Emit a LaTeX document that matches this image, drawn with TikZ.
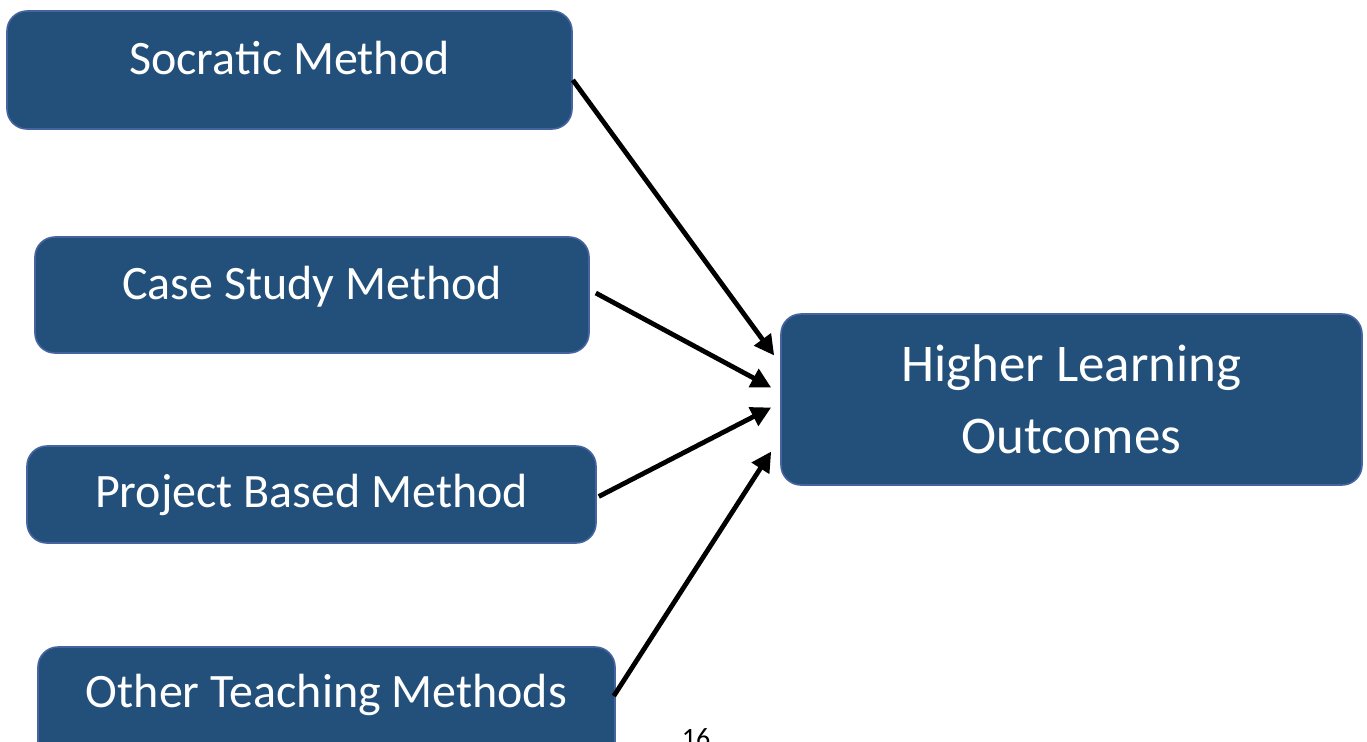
\documentclass[tikz,border=0pt]{standalone}
\usepackage{fontspec}
\setmainfont{Carlito}
\usepackage{tikz}
\usetikzlibrary{arrows.meta}
\usetikzlibrary{positioning}

\definecolor{boxblue}{RGB}{34,80,122}
\definecolor{boxedge}{RGB}{70,100,160}

\tikzset{
  method/.style={draw=boxedge, line width=0.8pt, fill=boxblue, rounded corners=10pt,
    text=white, font=\fontsize{24}{29}\selectfont, inner sep=0pt},
  outcome/.style={method, align=center, font=\fontsize{26.5}{36}\selectfont},
  link/.style={-{Triangle[length=10pt,width=10pt]}, line width=2.4pt, black}
}

\begin{document}
\begin{tikzpicture}[x=0.5pt, y=-0.5pt]
  \useasboundingbox (0,0) rectangle (1367,741);
  \clip (0,0) rectangle (1367,741);

  \node[method, minimum width=282.5pt, minimum height=59pt, text height=12pt, text depth=8pt]
    (socratic) at (289.5,70)  {Socratic Method};
  \node[method, minimum width=277pt, minimum height=58pt, text height=12pt, text depth=8pt]
    (casestudy) at (312,295)  {Case Study Method};
  \node[method, minimum width=284.5pt, minimum height=48.5pt, text height=16pt, text depth=3.5pt]
    (project) at (311.5,494.5) {Project Based Method};
  \node[method, minimum width=288.5pt, minimum height=60pt, text height=8pt, text depth=8pt]
    (other) at (326.5,707)   {Other Teaching Methods};
  \node[outcome, minimum width=290.5pt, minimum height=85.5pt, text depth=-10pt]
    (higher) at (1071.5,399.5) {Higher Learning\\Outcomes};
  \node[font=\fontsize{14}{17}\selectfont, anchor=base] (page) at (696,747) {16};

  % arrows into the outcome box
  \draw[link] ([yshift=-5pt]socratic.east) -- ([xshift=-3pt,yshift=22pt]higher.west);
  \draw[link] ([xshift=3pt,yshift=1pt]casestudy.east) -- ([xshift=-4.5pt,yshift=6pt]higher.west);
  \draw[link] ([xshift=1pt,yshift=-1pt]project.east) -- ([xshift=-4.5pt,yshift=-4pt]higher.west);
  \draw[link] ([xshift=-1pt,yshift=5.5pt]other.east) -- ([xshift=-4.5pt,yshift=-26pt]higher.west);
\end{tikzpicture}
\end{document}
